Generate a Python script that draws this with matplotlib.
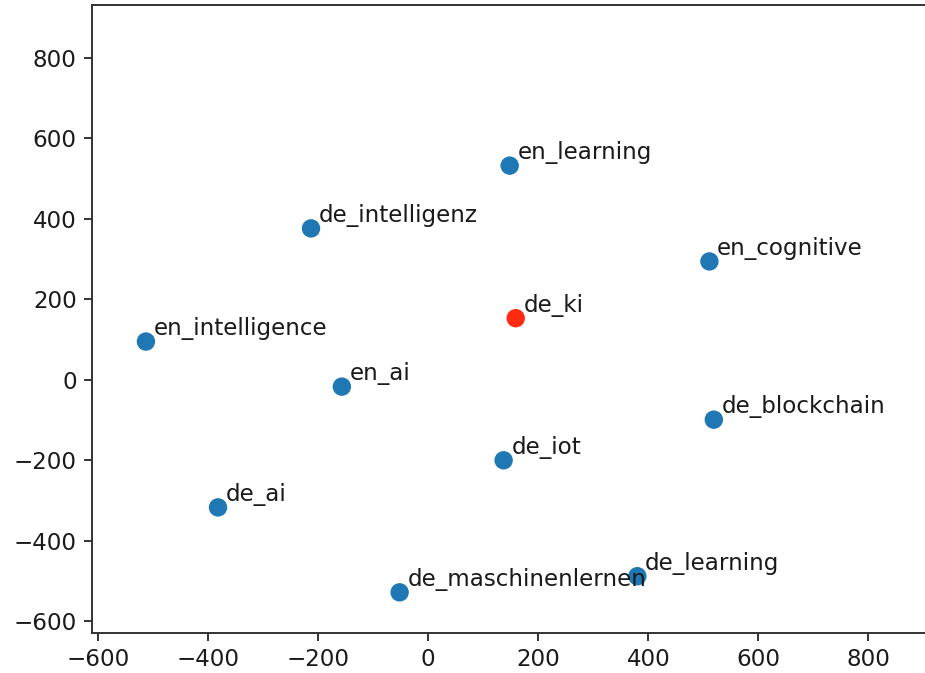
import matplotlib
matplotlib.use("Agg")
import matplotlib.pyplot as plt

# 2-D embedding of the word vectors
words = ["en_learning", "de_intelligenz", "en_cognitive", "de_ki", "en_intelligence",
         "en_ai", "de_blockchain", "de_iot", "de_ai", "de_learning", "de_maschinenlernen"]
xs = [148, -213, 511, 159, -513, -157, 519, 137, -382, 380, -52]
ys = [532, 376, 294, 153, 95, -17, -99, -200, -317, -488, -528]
query = "de_ki"

plt.rcParams["font.size"] = 16.6
plt.rcParams["text.color"] = "#1a1a1a"

fig = plt.figure(figsize=(9.25, 6.73), dpi=100)
ax = fig.add_axes([92 / 925, 40 / 673, 848 / 925, 628 / 673])

colors = ["#ff2a12" if w == query else "#1f77b4" for w in words]
ax.scatter(xs, ys, s=150, c=colors, zorder=2)
for w, x, y in zip(words, xs, ys):
    ax.annotate(w, (x, y), xytext=(5.5, 4.5), textcoords="offset points")

ax.set_xlim(-611, 930)
ax.set_ylim(-629, 931)
ax.set_xticks(range(-600, 801, 200))
ax.set_yticks(range(-600, 801, 200))

for sp in ax.spines.values():
    sp.set_linewidth(1.4)
    sp.set_color("#333333")
ax.tick_params(length=6, width=1.4, pad=5, color="#333333", labelcolor="#1a1a1a")

fig.savefig("out.png", dpi=100)
